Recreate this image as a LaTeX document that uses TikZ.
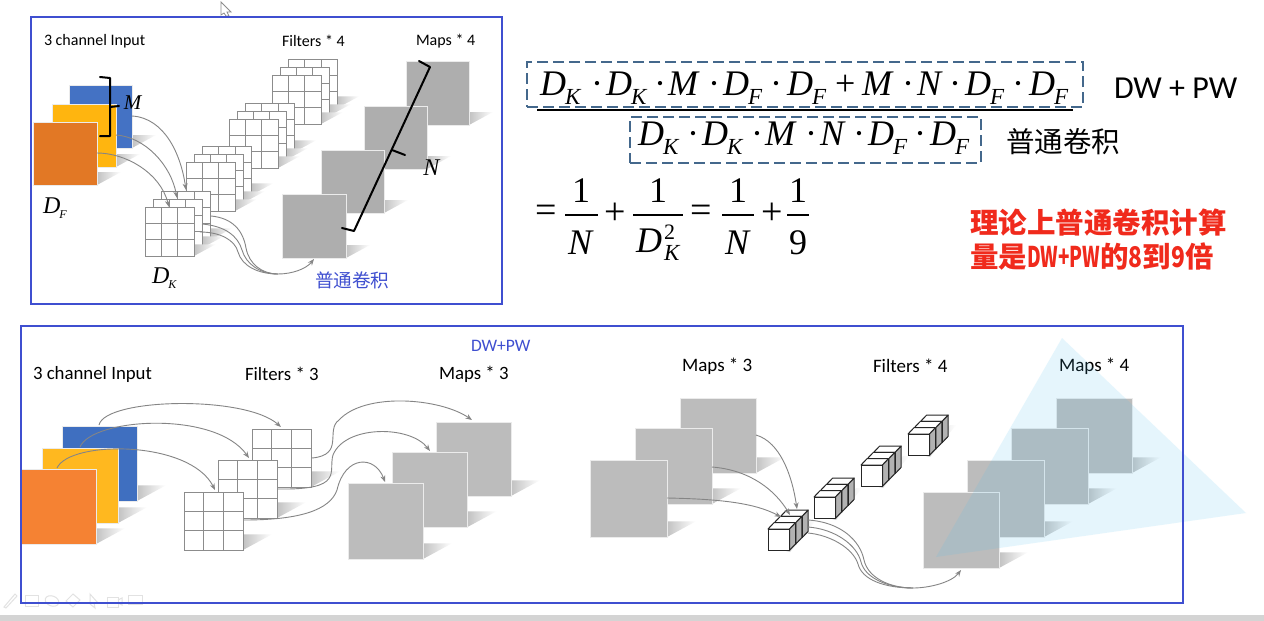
\documentclass[tikz,border=0pt]{standalone}
\usepackage{fontspec}
\setmainfont{Carlito}
\newfontfamily\tnr{Liberation Serif}
\newfontfamily\cjk{Noto Sans CJK SC}
\usetikzlibrary{arrows.meta}
\definecolor{panelblue}{HTML}{3F4FD0}
\definecolor{dashblue}{HTML}{44688C}
\definecolor{redtxt}{HTML}{F02A1C}
\definecolor{gridgray}{HTML}{8C8C8C}
\definecolor{curvegray}{HTML}{858585}
\definecolor{mapA}{HTML}{AEAEAE}
\definecolor{mapB}{HTML}{BCBCBC}
\definecolor{tri}{HTML}{4BBEF0}
\definecolor{faint}{HTML}{E2E2E2}
\definecolor{topblue}{HTML}{4472C4}
\definecolor{topyellow}{HTML}{FFB50F}
\definecolor{toporange}{HTML}{E27825}
\definecolor{botblue}{HTML}{3F6FC0}
\definecolor{botyellow}{HTML}{FFB81F}
\definecolor{botorange}{HTML}{F58233}
\tikzset{
  panel/.style={draw=panelblue,line width=2pt},
  sqbox/.style={draw=white!92!black,line width=1pt,inner sep=0pt,outer sep=0pt},
  gridbox/.style={draw=gridgray,line width=.9pt,fill=white,inner sep=0pt,outer sep=0pt},
  gridln/.style={draw=gridgray,line width=.9pt},
  flow/.style={draw=curvegray,line width=.9pt,-{Stealth[length=6.5pt,width=5pt]}},
  flowplain/.style={draw=curvegray,line width=.9pt},
  brk/.style={draw=black,line width=2pt,line join=round,line cap=round},
  dashbox/.style={draw=dashblue,line width=1.3pt,dash pattern=on 11pt off 5pt},
  fracbar/.style={draw=black,line width=1.1pt},
  lab/.style={inner sep=0pt,outer sep=0pt},
  faintln/.style={draw=faint,line width=1pt},
}
\newcommand\fsz[1]{\fontsize{#1}{#1}\selectfont}
\newcommand\shad[3]{\shade[left color=black!24,right color=white] (#1,#2) -- (#1,{#2-13*#3}) -- ({#1+24*#3},{#2-13*#3}) -- cycle;}
\newcommand\sqr[7]{%
  \shad{#4}{#5}{#7}%
  \pgfmathsetmacro\sw{(#4)-(#2)}\pgfmathsetmacro\sh{(#5)-(#3)}%
  \pgfmathsetmacro\scx{(#4+#2)/2}\pgfmathsetmacro\scy{(#5+#3)/2}%
  \node[sqbox,fill=#6,minimum width=\sw pt,minimum height=\sh pt] (#1) at (\scx,\scy) {};}
\newcommand\gridsq[6]{%
  \shad{#4}{#5}{#6}%
  \pgfmathsetmacro\sw{(#4)-(#2)}\pgfmathsetmacro\sh{(#5)-(#3)}%
  \pgfmathsetmacro\scx{(#4+#2)/2}\pgfmathsetmacro\scy{(#5+#3)/2}%
  \node[gridbox,minimum width=\sw pt,minimum height=\sh pt] (#1) at (\scx,\scy) {};
  \foreach \f in {1,2} {
    \draw[gridln] ({#2+\sw*\f/3},#3) -- ({#2+\sw*\f/3},#5);
    \draw[gridln] (#2,{#3+\sh*\f/3}) -- (#4,{#3+\sh*\f/3});
  }}
% stack of three grids, front top-left at #2,#3
\newcommand\gridstack[3]{%
  \gridsq{#1c}{#2+16.5}{#3-16}{#2+65.5}{#3+33}{.9}
  \gridsq{#1b}{#2+8}{#3-8}{#2+57}{#3+41}{.9}
  \gridsq{#1a}{#2}{#3}{#2+49}{#3+49}{.9}}
% small cube, front top-left #1,#2
\newcommand\onecube[2]{%
  \draw[line width=1pt,draw=black!85,fill=white,line join=round] (#1,#2) -- ({#1+6},{#2-6.3}) -- ({#1+27.5},{#2-6.3}) -- ({#1+21.5},#2) -- cycle;
  \draw[line width=1pt,draw=black!85,fill=black!30,line join=round] ({#1+21.5},#2) -- ({#1+27.5},{#2-6.3}) -- ({#1+27.5},{#2+15}) -- ({#1+21.5},{#2+21.3}) -- cycle;
  \draw[line width=1pt,draw=black!85,fill=white] (#1,#2) rectangle ({#1+21.5},{#2+21.3});}
\newcommand\cubestack[2]{%
  \shade[left color=black!22,right color=white] ({#1+14},{#2+21}) -- ({#1+42},{#2-9}) -- ({#1+48},{#2-9}) -- ({#1+22},{#2+23}) -- cycle;
  \onecube{#1+12.6}{#2-12.6}
  \onecube{#1+6.3}{#2-6.3}
  \onecube{#1}{#2}}
% formula pieces
\newcommand\cell[2]{\makebox[#1pt][l]{#2}}
\newcommand\Ds[1]{\textit{D}\kern-1pt\raisebox{-9.5pt}{\fsz{23}\textit{#1}}}
\newcommand\Dt{\kern-4pt·}
\begin{document}
\begin{tikzpicture}[x=1pt,y=-1pt]
\useasboundingbox (0,0) rectangle (1264,621);
\fill[white] (0,0) rectangle (1264,621);
\fill[black!17] (0,615) rectangle (1264,621);

% ---- toolbar ghosts and cursor
\draw[faintln] (4,607) -- (15,594) -- (17,596) -- (6,608) -- cycle;
\draw[faintln] (25,595) rectangle (38,606);
\draw[faintln,rotate around={-20:(52,601)}] (52,601) ellipse (7 and 5);
\draw[faintln] (66,601) -- (73,594) -- (80,600) -- (73,607) -- cycle;
\draw[faintln] (90,594) -- (98,603) -- (94,603) -- (95,608) -- (90,604) -- cycle;
\draw[faintln] (107,597) rectangle (118,607);
\draw[faintln] (118,600) -- (122,598) -- (122,605) -- (118,603);
\draw[faintln] (128,595) rectangle (142,604);
\draw[draw=black!45,fill=white,line width=.8pt] (221,2) -- (231,12) -- (227,12) -- (229,16) -- (226,16) -- (224,13) -- (221,15) -- cycle;

% ---- top panel
\node[lab,anchor=west] (t1) at (44,41) {\fsz{16}3 channel Input};
\node[lab,anchor=west] (t2) at (282,41) {\fsz{16}Filters * 4};
\node[lab,anchor=west] (t3) at (416,41) {\fsz{16}Maps * 4};

\sqr{tb}{69}{85}{132}{148}{topblue}{1}
\sqr{ty}{52}{104}{116}{167}{topyellow}{1}
\sqr{to}{33}{122}{97}{185}{toporange}{1}

\gridstack{ga}{272}{75}
\gridstack{gb}{229}{119}
\gridstack{gc}{186}{162}
\gridstack{gd}{145}{207}

\sqr{ma}{406}{61}{469}{125}{mapA}{1}
\sqr{mb}{364}{106}{427}{169}{mapA}{1}
\sqr{mc}{321}{150}{384}{213}{mapA}{1}
\sqr{md}{282}{194}{346}{258}{mapA}{1}

\coordinate (a1) at (132,116); \coordinate (b1) at (186,190);
\coordinate (a2) at (116,135); \coordinate (b2) at (177,198);
\coordinate (a3) at (97,153);  \coordinate (b3) at (169,207);
\draw[flow] (a1) .. controls (165,118) and (181,155) .. (b1);
\draw[flow] (a2) .. controls (145,137) and (171,165) .. (b2);
\draw[flow] (a3) .. controls (125,153) and (160,172) .. (b3);

\coordinate (o1) at (211,216); \coordinate (o2) at (202,224); \coordinate (o3) at (200,232);
\coordinate (om) at (278,274); \coordinate (oe) at (314,259);
\draw[flowplain] (o1) .. controls (232,218) and (243,230) .. (246,248) .. controls (249,264) and (262,274) .. (om);
\draw[flowplain] (o2) .. controls (225,226) and (238,236) .. (242,250) .. controls (246,264) and (260,274) .. (om);
\draw[flowplain] (o3) .. controls (220,232) and (235,240) .. (238,252) .. controls (242,266) and (258,274) .. (om);
\draw[flow] (om) .. controls (292,274) and (306,269) .. (oe);

\draw[brk] (419,61) -- (430,67) -- (354,231) -- (342,228);
\draw[brk] (392,150) -- (405,155);
\draw[brk] (100,77) -- (110,78) -- (110,136) -- (100,136);
\draw[brk] (110,107) -- (119,106);

\node[lab] (lm) at (133,103) {\fsz{21}\tnr\textit{M}};
\node[lab] (ln) at (432,168) {\fsz{24}\tnr\textit{N}};
\node[lab,anchor=west] (ldf) at (43,208) {\tnr\fsz{24}\textit{D}\kern-1pt\raisebox{-4.5pt}{\fsz{12}\textit{F}}};
\node[lab,anchor=west] (ldk) at (152,278) {\tnr\fsz{24}\textit{D}\kern-1pt\raisebox{-4.5pt}{\fsz{12}\textit{K}}};
\node[lab,anchor=west,text=panelblue] (lpt) at (315,280) {\fsz{18.6}\cjk 普通卷积};

% ---- formula
\node[dashbox,minimum width=556pt,minimum height=45pt,inner sep=0pt] (fb1) at (805,84.5) {};
\node[dashbox,minimum width=351pt,minimum height=46pt,inner sep=0pt] (fb2) at (805.5,140) {};
\node[lab,anchor=west] (f1) at (540,88) {\tnr\fsz{36}%
 \cell{55}{\Ds{K}}\cell{11}{\Dt}\cell{52}{\Ds{K}}\cell{10}{\Dt}\cell{44}{\textit{M}}\cell{11}{\Dt}\cell{51}{\Ds{F}}\cell{13}{\Dt}\cell{50}{\Ds{F}}\cell{25}{\kern-2pt+}\cell{44}{\textit{M}}\cell{11}{\Dt}\cell{36}{\textit{N}}\cell{12}{\Dt}\cell{51}{\Ds{F}}\cell{13}{\Dt}\Ds{F}};
\draw[line width=1.6pt] (537,110) -- (1073,110);
\node[lab,anchor=west] (f2) at (638,138) {\tnr\fsz{36}%
 \cell{53}{\Ds{K}}\cell{11}{\Dt}\cell{53}{\Ds{K}}\cell{10}{\Dt}\cell{44}{\textit{M}}\cell{11}{\Dt}\cell{37}{\textit{N}}\cell{11}{\Dt}\cell{50}{\Ds{F}}\cell{12}{\Dt}\Ds{F}};
\node[lab,anchor=west] (fdp) at (1114,88) {\fsz{32}DW + PW};
\node[lab,anchor=west] (fpt) at (1006,142) {\fsz{28.5}\cjk 普通卷积};

\node[lab] (e1) at (546,214) {\tnr\fsz{38}=};
\node[lab] (fn1) at (581,191) {\tnr\fsz{36}1};
\draw[fracbar] (565,215) -- (598,215);
\node[lab] (fd1) at (581,243) {\tnr\fsz{36}\textit{N}};
\node[lab] (fp1) at (615,214) {\tnr\fsz{38}+};
\node[lab] (fn2) at (658,191) {\tnr\fsz{36}1};
\draw[fracbar] (633,215) -- (683,215);
\node[lab,anchor=west] (fd2) at (636,243) {\tnr\fsz{36}\textit{D}\kern2pt\raisebox{-8pt}{\makebox[0pt][l]{\raisebox{21pt}{\fsz{22}2}}\fsz{23}\textit{K}}};
\node[lab] (e2) at (701,214) {\tnr\fsz{38}=};
\node[lab] (fn3) at (738,191) {\tnr\fsz{36}1};
\draw[fracbar] (722,215) -- (754,215);
\node[lab] (fd3) at (738,243) {\tnr\fsz{36}\textit{N}};
\node[lab] (fp2) at (772,214) {\tnr\fsz{38}+};
\node[lab] (fn4) at (798,191) {\tnr\fsz{36}1};
\draw[fracbar] (787,215) -- (809,215);
\node[lab] (fd4) at (798,243) {\tnr\fsz{36}9};

\node[lab,anchor=west,text=redtxt] (r1) at (970,223) {\fsz{28.5}\cjk\bfseries 理论上普通卷积计算};
\node[lab,anchor=west,text=redtxt] (r2) at (970,257) {\fsz{28.5}\cjk\bfseries 量是\scalebox{.66}[1]{DW+PW}的\scalebox{.8}[1]{8}到\scalebox{.8}[1]{9}倍};

% ---- bottom panel, left half
\node[lab,anchor=west] (u1) at (33,374) {\fsz{18.8}3 channel Input};
\node[lab,anchor=west] (u2) at (245,374) {\fsz{18.8}Filters * 3};
\node[lab,anchor=west] (u3) at (439,374) {\fsz{18.8}Maps * 3};
\node[lab,anchor=west,text=panelblue] (u4) at (471,346) {\fsz{17.5}DW+PW};

\sqr{bb}{62.5}{426}{137}{501}{botblue}{1.2}
\sqr{by}{42.5}{448}{118}{523}{botyellow}{1.2}
\sqr{bo}{21}{469}{96}{544}{botorange}{1.2}

\gridsq{h3}{252}{429}{311}{487}{1.2}
\gridsq{h2}{218}{460}{277}{518}{1.2}
\gridsq{h1}{184}{492}{243}{550}{1.2}

\sqr{k3}{436}{422}{511}{496}{mapB}{1.2}
\sqr{k2}{392.5}{452}{467.5}{527}{mapB}{1.2}
\sqr{k1}{348}{483}{423}{559}{mapB}{1.2}

\coordinate (p1) at (99,425);  \coordinate (q1) at (281,427);
\coordinate (p2) at (80,447);  \coordinate (q2) at (249,458);
\coordinate (p3) at (57,468);  \coordinate (q3) at (215,490);
\draw[flow] (p1) .. controls (105,398) and (245,395) .. (q1);
\draw[flow] (p2) .. controls (92,418) and (215,410) .. (q2);
\draw[flow] (p3) .. controls (70,440) and (190,440) .. (q3);

\coordinate (r1s) at (312,458); \coordinate (r1e) at (472,420);
\coordinate (r2s) at (278,489); \coordinate (r2e) at (430,451);
\coordinate (r3s) at (244,520); \coordinate (r3e) at (385,482);
\draw[flow] (r1s) .. controls (345,455) and (325,430) .. (339,420) .. controls (365,392) and (440,398) .. (r1e);
\draw[flow] (r2s) .. controls (345,490) and (328,472) .. (333,455) .. controls (345,425) and (410,425) .. (r2e);
\draw[flow] (r3s) .. controls (300,520) and (330,510) .. (337,490) .. controls (345,455) and (375,455) .. (r3e);

% ---- bottom panel, right half
\node[lab,anchor=west] (v1) at (682,366) {\fsz{19}Maps * 3};
\node[lab,anchor=west] (v2) at (873,366) {\fsz{19}Filters * 4};
\node[lab,anchor=west] (v3) at (1059,366) {\fsz{19}Maps * 4};

\sqr{w3}{680}{398}{756}{473}{mapB}{1.2}
\sqr{w2}{635}{428}{712}{504}{mapB}{1.2}
\sqr{w1}{590}{460}{667}{537}{mapB}{1.2}

\cubestack{908}{434}
\cubestack{861}{465}
\cubestack{814}{497}
\cubestack{768}{529}

\sqr{x4}{1056}{398}{1132}{473}{mapB}{1.2}
\sqr{x3}{1011}{428}{1088}{504}{mapB}{1.2}
\sqr{x2}{967}{460}{1044}{537}{mapB}{1.2}
\sqr{x1}{923}{492}{999}{568}{mapB}{1.2}

\fill[tri,opacity=.14] (1062,338) -- (1246,513) -- (936,557) -- cycle;

\coordinate (s1) at (756,435); \coordinate (z1) at (797,509);
\coordinate (s2) at (712,467); \coordinate (z2) at (790,515);
\coordinate (s3) at (667,498); \coordinate (z3) at (781,517);
\draw[flow] (s1) .. controls (780,442) and (792,475) .. (z1);
\draw[flow] (s2) .. controls (750,470) and (775,490) .. (z2);
\draw[flow] (s3) .. controls (720,499) and (755,503) .. (z3);

\coordinate (y1) at (808,520); \coordinate (y2) at (808,527); \coordinate (y3) at (808,533);
\coordinate (ym) at (913,588); \coordinate (ye) at (961,570);
\draw[flowplain] (y1) .. controls (840,522) and (860,540) .. (864,560) .. controls (868,578) and (890,588) .. (ym);
\draw[flowplain] (y2) .. controls (835,529) and (857,545) .. (861,562) .. controls (865,578) and (888,588) .. (ym);
\draw[flowplain] (y3) .. controls (830,535) and (853,548) .. (858,564) .. controls (862,580) and (885,588) .. (ym);
\draw[flow] (ym) .. controls (930,588) and (952,582) .. (ye);

% ---- panel frames
\node[panel,minimum width=471pt,minimum height=287pt,inner sep=0pt] (pt) at (266.5,160.5) {};
\node[panel,minimum width=1162pt,minimum height=277pt,inner sep=0pt] (pb) at (602,464.5) {};
\end{tikzpicture}
\end{document}
